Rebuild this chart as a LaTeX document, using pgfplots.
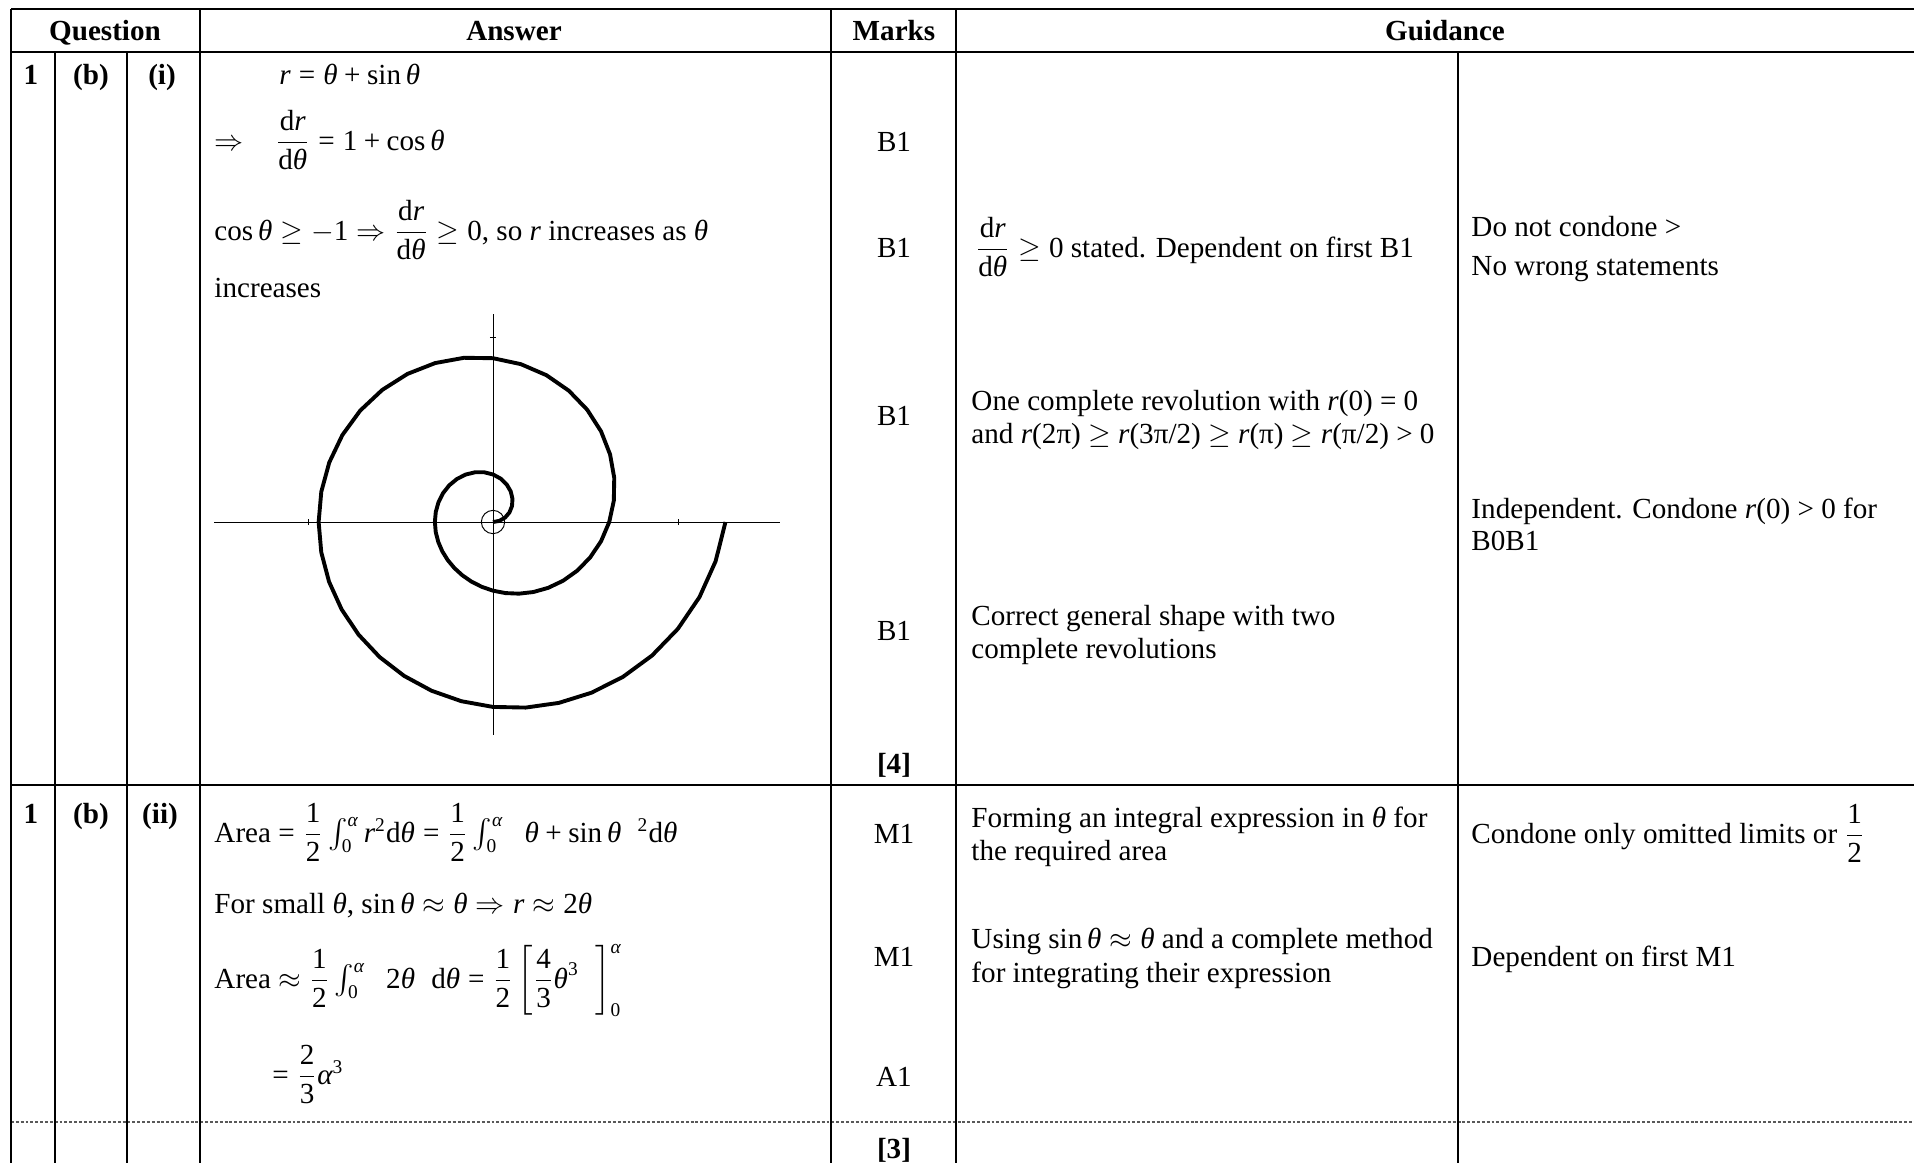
\documentclass[border=0pt]{standalone}
\usepackage{amsmath}
\usepackage{fontspec}
\setmainfont{Liberation Serif}
\usepackage{pgfplots}
\pgfplotsset{compat=1.18}

% = + and digits in formulas taken from the text font, as in the reference
\AtBeginDocument{%
  \begingroup\lccode`\~=`\=\lowercase{\endgroup\def~}{\mathrel{\text{=}}}%
  \begingroup\lccode`\~=`\+\lowercase{\endgroup\def~}{\mathbin{\text{+}}}%
  \mathcode`\==\string"8000
  \mathcode`\+=\string"8000
  \Umathcode`\0=7 \symoperators `\0
  \Umathcode`\1=7 \symoperators `\1
  \Umathcode`\2=7 \symoperators `\2
  \Umathcode`\3=7 \symoperators `\3
  \Umathcode`\4=7 \symoperators `\4
}

% one pixel of the reference
\newcommand{\px}{0.412pt}
\newcommand{\T}{\text{\itshape θ}}
\newcommand{\R}{\text{\itshape r}}
\newcommand{\A}{\text{\itshape α}}
\newcommand{\dd}{\text{d}}

\tikzset{
  tx/.style={anchor=base west, inner sep=0pt, font=\fontsize{12}{13.8}\selectfont},
  tc/.style={anchor=base, inner sep=0pt, font=\fontsize{12}{13.8}\selectfont},
  hb/.style={tc, font=\fontsize{12}{13.8}\selectfont\bfseries},
  rule/.style={line width=1pt},
}

\begin{document}
\begin{tikzpicture}[x=\px, y=-\px]
\useasboundingbox (0,0) rectangle (1914,1163);

% table rules
\draw[rule] (11,9) -- (1914,9);
\draw[rule] (11,52) -- (1914,52);
\draw[rule] (11,785) -- (1914,785);
\draw[black!65, line width=0.5pt, dash pattern=on 1.2pt off 0.8pt] (11,1122) -- (1914,1122);
\foreach \cx in {11,200,831,956} \draw[rule] (\cx,9) -- (\cx,1163);
\foreach \cx in {55,127} \draw[rule] (\cx,52) -- (\cx,1163);
\draw[line width=0.7pt] (1458,52) -- (1458,1163);

% header
\node[hb] at (105,40) {Question};
\node[hb] at (514,40) {Answer};
\node[hb] at (894,40) {Marks};
\node[hb] at (1445,40) {Guidance};

% part (i)
\node[hb] at (31,84) {1};
\node[hb] at (91,84) {(b)};
\node[hb] at (162,84) {(i)};
\node[tx] at (279,84) {$\R=\T+\sin\T$};
\node[tx] at (214,150) {$\Rightarrow$};
\node[tx] at (275,150) {$\dfrac{\dd\R}{\dd\T}=1+\cos\T$};
\node[tx] at (214,240) {$\cos\T\geq-1\Rightarrow\dfrac{\dd\R}{\dd\T}\geq0$, so \textit{r} increases as \textit{θ}};
\node[tx] at (214,297) {increases};

\node[tc] at (894,151) {B1};
\node[tc] at (894,257) {B1};
\node[tc] at (894,425) {B1};
\node[tc] at (894,640) {B1};
\node[hb] at (894,773) {[4]};

\node[tx] at (975,257) {$\dfrac{\dd\R}{\dd\T}\geq0$ stated. Dependent on first B1};
\node[tx] at (971,410) {One complete revolution with \textit{r}(0) = 0};
\node[tx] at (971,443) {and \textit{r}(2π) $\geq$ \textit{r}(3π/2) $\geq$ \textit{r}(π) $\geq$ \textit{r}(π/2) > 0};
\node[tx] at (971,625) {Correct general shape with two};
\node[tx] at (971,658) {complete revolutions};

\node[tx] at (1471,236) {Do not condone >};
\node[tx] at (1471,275) {No wrong statements};
\node[tx] at (1471,518) {Independent. Condone \textit{r}(0) > 0 for};
\node[tx] at (1471,550) {B0B1};

% the sketch of r = theta + sin theta, 0 <= theta <= 4 pi
\coordinate (pole) at (493,522);
\begin{axis}[
  at={(pole)}, anchor=origin,
  x=7.622pt, y=7.622pt,
  xmin=-15.06, xmax=15.51, ymin=-11.5, ymax=11.24,
  axis lines=middle,
  axis line style={-, line width=0.4pt},
  xtick={-10,10}, ytick={-10,10},
  xticklabels={,,}, yticklabels={,,},
  major tick length=2.6pt, tick align=center,
  tick style={line width=0.4pt, black},
]
\addplot[black, line width=1.6pt, line join=round] coordinates {
 (0,0) (0.3429,0.0605) (0.6494,0.2364) (0.8865,0.5118) (1.0272,0.8619)
 (1.0533,1.2553) (0.9566,1.6569) (0.7393,2.0311) (0.4135,2.3449) (0,2.5708)
 (-0.4741,2.6887) (-0.9780,2.6871) (-1.4802,2.5638) (-1.9509,2.3249)
 (-2.3642,1.9838) (-2.7003,1.5590) (-2.9455,1.0721) (-3.0930,0.5454)
 (-3.1416,0) (-3.0948,-0.5457) (-2.9587,-1.0769) (-2.7412,-1.5826)
 (-2.4490,-2.0550) (-2.0879,-2.4883) (-1.6614,-2.8776) (-1.1709,-3.2172)
 (-0.6170,-3.4991) (0,-3.7124) (0.6776,-3.8428) (1.4097,-3.8732)
 (2.1850,-3.7845) (2.9854,-3.5579) (3.7860,-3.1768) (4.5550,-2.6298)
 (5.2548,-1.9126) (5.8449,-1.0306) (6.2832,0) (6.5306,1.1515)
 (6.5537,2.3853) (6.3279,3.6534) (5.8404,4.9007) (5.0921,6.0685)
 (4.0982,7.0984) (2.8882,7.9353) (1.5046,8.5327) (0,8.8540)
 (-1.5652,8.8764) (-3.1270,8.5913) (-4.6218,8.0053) (-5.9896,7.1381)
 (-7.1774,6.0226) (-8.1417,4.7006) (-8.8497,3.2211) (-9.2808,1.6365)
 (-9.4248,0) (-9.2825,-1.6368) (-8.8630,-3.2259) (-8.1826,-4.7242)
 (-7.2622,-6.0937) (-6.1267,-7.3014) (-4.8030,-8.3190) (-3.3199,-9.1214)
 (-1.7081,-9.6868) (0,-9.9956) (1.7687,-10.0306) (3.5587,-9.7774)
 (5.3266,-9.2259) (7.0242,-8.3711) (8.5992,-7.2156) (9.9964,-5.7714)
 (11.1591,-4.0616) (12.0326,-2.1217) (12.5664,0)
};
\addplot[only marks, mark=o, mark size=4.8pt, mark options={line width=0.4pt, black}]
  coordinates {(0,0)};
\end{axis}

% part (ii)
\node[hb] at (31,823) {1};
\node[hb] at (91,823) {(b)};
\node[hb] at (160,823) {(ii)};
\node[tx] at (214,842) {Area $=\dfrac12\int_0^{\A}\R^2\dd\T=\dfrac12\int_0^{\A}\;\;\T+\sin\T\;\;{}^2\dd\T$};
\node[tx] at (214,913) {For small \textit{θ}, $\sin\T\approx\T\Rightarrow\R\approx2\T$};
\node[tx] at (214,988) {Area $\approx\dfrac12\int_0^{\A}\;\;2\T\;\;\dd\T=\dfrac12\left[\dfrac43\T^3\;\;\right]_0^{\A}$};
\node[tx] at (272,1084) {$=\dfrac23\A^3$};

\node[tc] at (894,843) {M1};
\node[tc] at (894,966) {M1};
\node[tc] at (894,1086) {A1};
\node[hb] at (894,1158) {[3]};

\node[tx] at (971,827) {Forming an integral expression in \textit{θ} for};
\node[tx] at (971,860) {the required area};
\node[tx] at (971,948) {Using $\sin\T\approx\T$ and a complete method};
\node[tx] at (971,982) {for integrating their expression};

\node[tx] at (1471,843) {Condone only omitted limits or $\dfrac12$};
\node[tx] at (1471,966) {Dependent on first M1};
\end{tikzpicture}
\end{document}
